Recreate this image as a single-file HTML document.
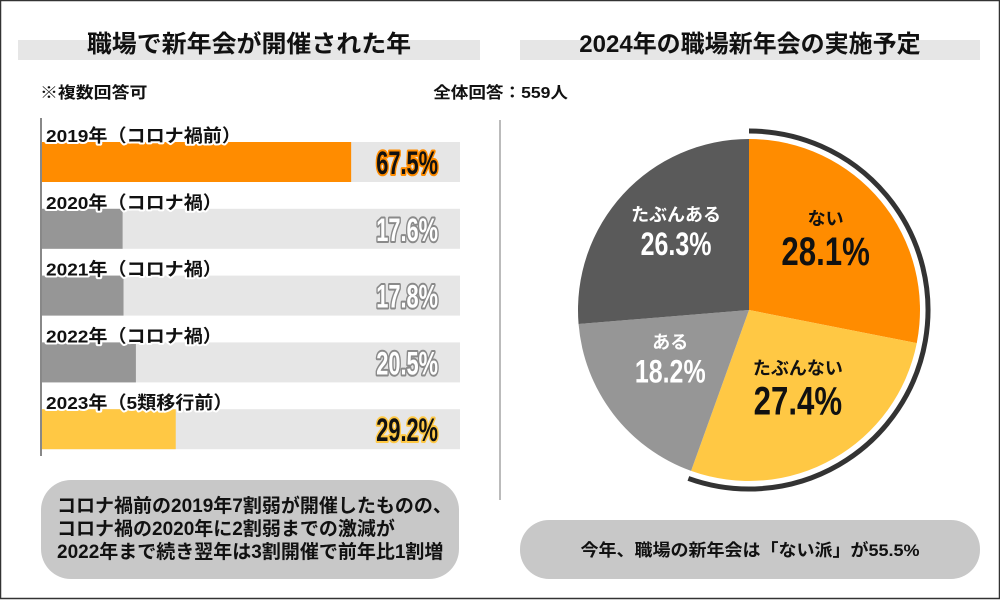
<!DOCTYPE html>
<html><head><meta charset="utf-8"><style>
html,body{margin:0;padding:0;background:#fff}
svg{display:block}
text{font-family:"Liberation Sans","Noto Sans CJK JP",sans-serif;font-weight:bold}
</style></head><body>
<svg width="1000" height="600" viewBox="0 0 1000 600" xmlns="http://www.w3.org/2000/svg">
<rect x="0.5" y="0.5" width="999" height="598" fill="#fff" stroke="#333" stroke-width="1.5"/>
<rect x="18" y="40" width="462" height="20" fill="#e6e6e6"/>
<rect x="520" y="40" width="460" height="20" fill="#e6e6e6"/>
<text x="249" y="52" font-size="24" text-anchor="middle" fill="#111" transform="translate(249 0) scale(1.04 1) translate(-249 0)">職場で新年会が開催された年</text>
<text x="750" y="52" font-size="24" text-anchor="middle" fill="#111" transform="translate(750 0) scale(1.0 1) translate(-750 0)">2024年の職場新年会の実施予定</text>
<text x="40" y="98" font-size="16" fill="#111" transform="translate(40 0) scale(1.12 1) translate(-40 0)">※複数回答可</text>
<text x="568" y="98" font-size="16" text-anchor="end" fill="#111" transform="translate(568 0) scale(1.1 1) translate(-568 0)">全体回答：559人</text>
<line x1="500" y1="120" x2="500" y2="500" stroke="#bbb" stroke-width="2"/>
<g id="bars"></g>
<line x1="41" y1="118" x2="41" y2="456" stroke="#888" stroke-width="2"/>
<g id="pie"></g>
<rect x="41" y="480" width="418" height="99" rx="30" fill="#c8c8c8"/>
<g font-size="19" fill="#111" transform="translate(57 0) scale(1.0 1) translate(-57 0)">
<text x="57" y="512">コロナ禍前の2019年7割弱が開催したものの、</text>
<text x="57" y="535">コロナ禍の2020年に2割弱までの激減が</text>
<text x="57" y="558">2022年まで続き翌年は3割開催で前年比1割増</text>
</g>
<rect x="520" y="520" width="460" height="59" rx="29" fill="#c8c8c8"/>
<text x="750" y="556" font-size="17" fill="#111" text-anchor="middle" transform="translate(750 0) scale(1.06 1) translate(-750 0)">今年、職場の新年会は「ない派」が55.5%</text>
</svg>
<script>
const barLabels=["2019年（コロナ禍前）","2020年（コロナ禍）","2021年（コロナ禍）","2022年（コロナ禍）","2023年（5類移行前）"];
const barValues=[67.5,17.6,17.8,20.5,29.2];
const pieLabels=["ない","たぶんない","ある","たぶんある"];
const pieValues=[28.1,27.4,18.2,26.3];
const ringShare=55.5;

const NS="http://www.w3.org/2000/svg";
function mk(t,a,p){const e=document.createElementNS(NS,t);for(const k in a)e.setAttribute(k,a[k]);p.appendChild(e);return e;}
const barFill=["#ff8c00","#969696","#969696","#969696","#ffc844"];
const pctFill=["#111","#fff","#fff","#fff","#111"];
const pctStroke=["#ff8c00","#8a8a8a","#8a8a8a","#8a8a8a","#ffc844"];
const x0=42, trackEnd=460, pxPer=4.58;
const xs=v=>x0+v*pxPer;
const bg=document.getElementById('bars');
barValues.forEach((v,i)=>{
  const y=142+i*66.8;
  const tr=mk('rect',{x:x0,y:y,width:trackEnd-x0,height:40,fill:'#e6e6e6'},bg);
  
  
  const b=mk('rect',{x:x0,y:y,width:xs(v)-x0,height:40,fill:barFill[i]},bg);
  
  
  const l=mk('text',{x:46,y:y,'font-size':18,fill:'#111',stroke:'#fff','stroke-width':4,'paint-order':'stroke','stroke-linejoin':'round',transform:'translate(46 0) scale(1.06 1) translate(-46 0)'},bg);
  l.textContent=barLabels[i];
  
  
  const p=mk('text',{x:438,y:y+32,'font-size':32,'text-anchor':'end',fill:pctFill[i],stroke:pctStroke[i],'stroke-width':4,'paint-order':'stroke','stroke-linejoin':'round',transform:`translate(438 0) scale(0.68 1) translate(-438 0)`},bg);
  p.textContent=v.toFixed(1)+'%';
  
  
});
const pg=document.getElementById('pie');
const cx=749,cy=310,r=171;
const pieFill=["#ff8c00","#ffc844","#969696","#5a5a5a"];
const txtFill=["#111","#111","#fff","#fff"];
const total=pieValues.reduce((a,b)=>a+b,0);
function pt(f,rr){const a=f*2*Math.PI;return [cx+rr*Math.sin(a),cy-rr*Math.cos(a)];}
let acc=0;
pieValues.forEach((v,i)=>{
  const f0=acc/total,f1=(acc+v)/total;acc+=v;
  const [x1,y1]=pt(f0,r),[x2,y2]=pt(f1,r);
  const s=mk('path',{d:`M${cx},${cy}L${x1},${y1}A${r},${r} 0 ${f1-f0>0.5?1:0} 1 ${x2},${y2}Z`,fill:pieFill[i]},pg);
  
  
  const fm=(f0+f1)/2;const [lx,ly]=pt(fm,r*0.58);
  const t1=mk('text',{x:lx,y:ly-22,'font-size':18,'text-anchor':'middle',fill:txtFill[i]},pg);
  t1.textContent=pieLabels[i];
  
  
  const big=i<2?40:32;
  const t2=mk('text',{x:lx,y:ly+(i<2?18:12),'font-size':big,'text-anchor':'middle',fill:txtFill[i],transform:`translate(${lx} 0) scale(0.78 1) translate(${-lx} 0)`},pg);
  t2.textContent=v.toFixed(1)+'%';
  
  
});
const rr=179;const [a1,b1]=pt(0,rr),[a2,b2]=pt(ringShare/100,rr);
const ring=mk('path',{d:`M${a1},${b1}A${rr},${rr} 0 ${ringShare>50?1:0} 1 ${a2},${b2}`,fill:'none',stroke:'#333','stroke-width':5},pg);


</script>
</body></html>
